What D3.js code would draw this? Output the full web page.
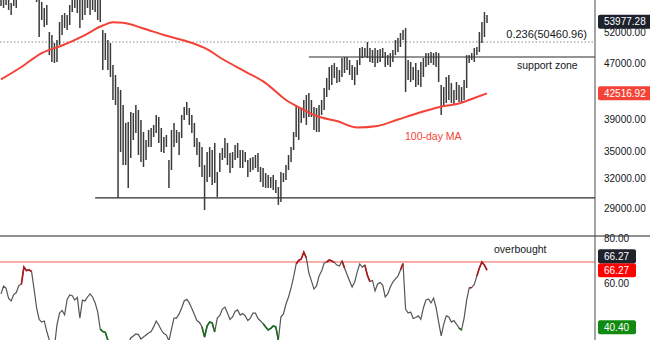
<!DOCTYPE html>
<html>
<head>
<meta charset="utf-8">
<script src="https://cdn.jsdelivr.net/npm/d3@7"></script>
<style>
    body { margin: 0; background: #fff; }
    svg { display: block; font-family: "Liberation Sans", Arial, sans-serif; }
</style>
</head>
<body>
<div id="chart"></div>
<script>
// daily bars (high / low per day)
const highs = [
    59200, 59800, 59400, 59000, 57480, 58900, 59300, 60500, 61200, 61800,
    61500, 62300, 61800, 60900, 59600, 58700, 57670, 56530, 57100, 52180,
    51650, 50290, 50800, 53940, 55200, 55580, 55200, 57100, 58600, 59100,
    58800, 58300, 58400, 58700, 59200, 58900, 59000, 58500, 58600, 58400,
    52530, 52000, 50800, 50290, 46730, 45200, 43420, 42990, 40900, 38520,
    38640, 39950, 39820, 40900, 40220, 38900, 37370, 36390, 37620, 37880,
    38260, 39550, 39290, 37880, 36750, 37000, 34040, 37620, 38520, 37620,
    37370, 39550, 40630, 41310, 40490, 39550, 38520, 36630, 36150, 35550,
    33470, 34960, 35550, 35190, 36030, 32700, 34840, 35430, 36630, 36030,
    34840, 34960, 35790, 36030, 35190, 35190, 34960, 34040, 34270, 34380,
    34610, 34840, 33250, 33140, 32590, 32380, 32160, 32380, 31840, 31110,
    32700, 32590, 33470, 34610, 35550, 37370, 40900, 40630, 40490, 41580,
    42280, 42560, 41580, 40630, 40490, 40900, 41580, 43270, 44750, 46420,
    46730, 47040, 46420, 45960, 47830, 47990, 47990, 47520, 46730, 46420,
    47520, 49460, 49620, 49460, 50460, 49460, 49130, 49460, 49130, 49290,
    49460, 48800, 48300, 48630, 49130, 50800, 51130, 52000, 52530, 52880,
    47520, 47200, 46420, 47040, 45960, 47200, 47830, 48630, 48630, 48800,
    48630, 48800, 48630, 43700, 43420, 44900, 45200, 44000, 42990, 44150,
    43700, 43420, 44450, 48300, 48300, 48630, 49460, 49620, 52180, 53940,
    55770, 55200
];
const lows = [
    56900, 56530, 57100, 56150, 55200, 56900, 56530, 58400, 59000, 59600,
    59400, 60100, 59700, 58600, 57670, 51310, 54300, 53050, 53400, 48300,
    47200, 47040, 47200, 49950, 51650, 52880, 52530, 53400, 55770, 56530,
    55580, 52880, 54300, 55200, 56530, 55200, 56150, 55770, 54300, 53940,
    45960, 47520, 45960, 44900, 41580, 40900, 29990, 34960, 33470, 33470,
    31010, 34270, 36390, 37250, 34610, 33810, 33250, 34040, 35550, 35550,
    36750, 37250, 36030, 34960, 34840, 35550, 31010, 32920, 35550, 36030,
    34610, 36630, 38900, 39550, 38260, 37250, 35550, 34610, 33250, 32160,
    28810, 31630, 32160, 31320, 31530, 30090, 32700, 34040, 34270, 33470,
    32590, 33140, 34040, 34270, 33140, 33140, 33810, 32160, 32700, 32920,
    33140, 32700, 31630, 31110, 31010, 31010, 31010, 30800, 30490, 29300,
    29590, 31630, 31840, 32920, 33810, 35190, 36750, 36390, 38520, 39160,
    38260, 39290, 39290, 37620, 37370, 37370, 39550, 40220, 42000, 42990,
    43700, 44750, 44000, 44150, 44900, 45500, 45960, 45200, 44450, 43700,
    45200, 46730, 47830, 47990, 47830, 47200, 47040, 46420, 47040, 47200,
    47830, 46420, 46730, 46420, 47200, 48300, 48800, 49620, 50800, 42700,
    44450, 44150, 44450, 43420, 43700, 43420, 44900, 46420, 46730, 47040,
    46730, 46420, 44150, 39550, 40630, 41170, 41580, 41170, 40900, 41580,
    41310, 41170, 41580, 43270, 47040, 47520, 47200, 48300, 48800, 50290,
    51310, 53760
];

// 100-day moving average, sampled along the bars (bar index / value)
const maDays = [0, 8, 16, 24, 32, 40, 44, 48, 56, 64, 72, 80, 88, 96, 104, 112,
    118, 124, 132, 140, 148, 156, 164, 172, 180, 186, 191];
const maValues = [44530, 46420, 48630, 49870, 51420, 53310, 53880, 53790, 52790,
    51650, 50720, 49470, 47440, 45720, 44000, 41580, 40420, 39420, 38770, 37940,
    38130, 38960, 39820, 40600, 41110, 41860, 42516.92];

// RSI per bar
const rsi = [
    55.5, 59.1, 58.0, 53.4, 52.3, 55.2, 56.1, 59.3, 59.8, 67.7,
    66.1, 66.4, 65.7, 57.7, 49.1, 43.9, 42.7, 43.2, 38.4, 34.5,
    32.3, 31.4, 41.4, 46.8, 48.0, 46.0, 53.0, 55.0, 54.7, 52.7,
    53.9, 44.5, 52.7, 52.3, 54.1, 55.5, 54.1, 51.4, 47.3, 39.5,
    38.4, 38.0, 34.5, 31.8, 30.0, 28.6, 25.5, 27.7, 29.1, 30.9,
    32.7, 35.5, 36.4, 37.3, 37.0, 35.0, 35.9, 36.8, 37.7, 38.4,
    40.5, 43.2, 41.4, 39.1, 37.5, 36.8, 34.1, 39.5, 44.5, 44.5,
    46.4, 49.1, 52.3, 53.0, 51.4, 48.9, 46.1, 43.4, 42.5, 40.5,
    35.9, 40.9, 42.7, 42.3, 38.2, 44.5, 45.7, 48.6, 49.5, 46.8,
    43.9, 45.0, 47.5, 48.2, 45.9, 46.6, 45.5, 43.4, 44.5, 46.8,
    46.8, 44.3, 43.2, 42.0, 40.5, 39.1, 39.8, 40.9, 40.5, 34.5,
    45.0, 46.4, 50.9, 54.1, 58.2, 63.2, 69.1, 70.7, 71.4, 74.5,
    71.8, 65.0, 61.4, 57.7, 59.1, 63.6, 65.9, 69.5, 70.0, 70.9,
    70.5, 69.8, 68.6, 68.2, 70.5, 67.3, 64.3, 61.4, 58.6, 60.9,
    65.5, 69.1, 67.7, 68.6, 63.9, 61.1, 61.6, 56.8, 60.0, 60.7,
    59.5, 54.1, 55.5, 58.6, 60.9, 62.3, 63.6, 66.4, 69.3, 48.6,
    46.8, 47.3, 44.3, 44.8, 45.5, 43.9, 49.1, 52.7, 53.2, 51.4,
    53.6, 49.3, 42.7, 36.4, 41.8, 45.5, 45.0, 42.7, 43.4, 41.8,
    40.0, 39.1, 44.5, 52.7, 58.2, 58.4, 59.8, 63.6, 67.3, 70.0,
    68.6, 66.27
];
// stretches of the RSI line drawn hot (red) or cold (green), as bar ranges
const rsiHot = [[8, 12], [116, 120], [128, 131], [134, 135], [143, 145], [157, 158], [184, 185], [187, 191]];
const rsiCold = [[39, 42], [79, 84], [103, 109], [180, 181]];

const priceTicks = [52000, 47000, 39000, 35000, 32000, 29000];
const rsiTicks = [80, 60];

const lastClose = 53977.28;
const fibRatio = 0.236;
const fibLevel = 50460.96;
const supportLevel = 48000, supportFrom = 121;
const baseLevel = 30000, baseFrom = 37;
const overbought = 70;
const rsiLast = 66.27;
const rsiLow = 40.40;

const width = 650, height = 340;
const axisX = 595;
const priceBottom = 235, rsiTop = 237;

const svg = d3.select('#chart').append('svg')
    .attr('width', width)
    .attr('height', height);

const defs = svg.append('defs');
defs.append('clipPath').attr('id', 'clip-price')
    .append('rect').attr('x', 0).attr('y', 0).attr('width', axisX).attr('height', priceBottom);
defs.append('clipPath').attr('id', 'clip-rsi')
    .append('rect').attr('x', 0).attr('y', rsiTop).attr('width', axisX).attr('height', height - rsiTop);

const xScale = d3.scaleLinear().domain([0, highs.length - 1]).range([1, 487]);
const yScale = d3.scaleLog().domain([26503, 58050]).range([priceBottom, 0]);
const rScale = d3.scaleLinear().domain([34.55, 81.36]).range([height, rsiTop]);
const fmt = d3.format('.2f');

// ---- price panel
const price = svg.append('g').attr('clip-path', 'url(#clip-price)');

price.append('line')
    .attr('x1', 0).attr('x2', axisX)
    .attr('y1', yScale(fibLevel)).attr('y2', yScale(fibLevel))
    .style('stroke', '#8a8a8a').style('stroke-width', 1)
    .style('stroke-dasharray', '1.5,2');

price.append('line')
    .attr('x1', xScale(supportFrom)).attr('x2', axisX)
    .attr('y1', yScale(supportLevel)).attr('y2', yScale(supportLevel))
    .style('stroke', '#2b2b2b').style('stroke-width', 1.2);

price.append('line')
    .attr('x1', xScale(baseFrom)).attr('x2', axisX)
    .attr('y1', yScale(baseLevel)).attr('y2', yScale(baseLevel))
    .style('stroke', '#2b2b2b').style('stroke-width', 1.2);

const bars = highs.map((h, i) => ({ i, h, l: lows[i] }));
price.selectAll('.bar')
    .data(bars)
    .enter().append('line')
    .attr('class', 'bar')
    .attr('x1', d => xScale(d.i)).attr('x2', d => xScale(d.i))
    .attr('y1', d => yScale(d.h)).attr('y2', d => yScale(d.l))
    .style('stroke', '#3a3a3a')
    .style('stroke-width', 1.5);

const maLine = d3.line()
    .x((d, i) => xScale(maDays[i]))
    .y(d => yScale(d))
    .curve(d3.curveMonotoneX);

price.append('path')
    .datum(maValues)
    .attr('d', maLine)
    .style('fill', 'none')
    .style('stroke', '#f44336')
    .style('stroke-width', 2);

svg.append('text')
    .attr('x', axisX - 8).attr('y', yScale(fibLevel) - 4)
    .attr('text-anchor', 'end')
    .style('font-size', '11px').style('fill', '#131722')
    .text(`${fibRatio}(${fmt(fibLevel)})`);

svg.append('text')
    .attr('x', 517).attr('y', yScale(supportLevel) + 12)
    .style('font-size', '10.5px').style('fill', '#131722')
    .text('support zone');

svg.append('text')
    .attr('x', 405).attr('y', 140)
    .style('font-size', '10.5px').style('fill', '#f44336')
    .text('100-day MA');

// ---- RSI panel
const rsiG = svg.append('g').attr('clip-path', 'url(#clip-rsi)');

rsiG.append('line')
    .attr('x1', 0).attr('x2', axisX)
    .attr('y1', rScale(overbought)).attr('y2', rScale(overbought))
    .style('stroke', '#f44336').style('stroke-width', 1)
    .style('opacity', 0.85);

const rsiLine = d3.line()
    .x(d => xScale(d.i))
    .y(d => rScale(d.v));

const rsiPoints = rsi.map((v, i) => ({ i, v }));

rsiG.append('path')
    .datum(rsiPoints)
    .attr('d', rsiLine)
    .style('fill', 'none')
    .style('stroke', '#555')
    .style('stroke-width', 1.2);

function drawStretches(ranges, color) {
    ranges.forEach(([a, b]) => {
        rsiG.append('path')
            .datum(rsiPoints.slice(a, b + 1))
            .attr('d', rsiLine)
            .style('fill', 'none')
            .style('stroke', color)
            .style('stroke-width', 1.6);
    });
}
drawStretches(rsiHot, '#b0181b');
drawStretches(rsiCold, '#1e6b1e');

svg.append('text')
    .attr('x', 494).attr('y', rScale(overbought) - 9)
    .style('font-size', '10.5px').style('fill', '#131722')
    .text('overbought');

// ---- frame
svg.append('line')
    .attr('x1', 0).attr('x2', width)
    .attr('y1', 236).attr('y2', 236)
    .style('stroke', '#6b6b6b').style('stroke-width', 1.5);

svg.append('line')
    .attr('x1', axisX).attr('x2', axisX)
    .attr('y1', 0).attr('y2', height)
    .style('stroke', '#4a4a4a').style('stroke-width', 1);

// ---- axis labels
const axisG = svg.append('g')
    .style('font-size', '10px')
    .style('fill', '#131722');

axisG.selectAll('.ptick')
    .data(priceTicks)
    .enter().append('text')
    .attr('class', 'ptick')
    .attr('x', 604)
    .attr('y', d => yScale(d))
    .attr('dy', '0.35em')
    .text(d => fmt(d));

axisG.selectAll('.rtick')
    .data(rsiTicks)
    .enter().append('text')
    .attr('class', 'rtick')
    .attr('x', 604)
    .attr('y', d => rScale(d) - 1)
    .attr('dy', '0.35em')
    .text(d => fmt(d));

function tag(yPos, value, bg, w) {
    svg.append('rect')
        .attr('x', 598).attr('y', yPos - 7)
        .attr('width', w).attr('height', 14)
        .attr('rx', 2)
        .style('fill', bg);
    svg.append('text')
        .attr('x', 604).attr('y', yPos)
        .attr('dy', '0.35em')
        .style('font-size', '10px')
        .style('fill', '#fff')
        .text(fmt(value));
}

tag(yScale(lastClose), lastClose, '#1e222d', 56);
tag(yScale(maValues[maValues.length - 1]), maValues[maValues.length - 1], '#f44336', 56);
tag(rScale(rsiLast), rsiLast, '#ff0000', 38);
tag(rScale(rsiLast) - 14, rsiLast, '#1e222d', 38);
tag(rScale(rsiLow), rsiLow, '#118a11', 38);
</script>
</body>
</html>
